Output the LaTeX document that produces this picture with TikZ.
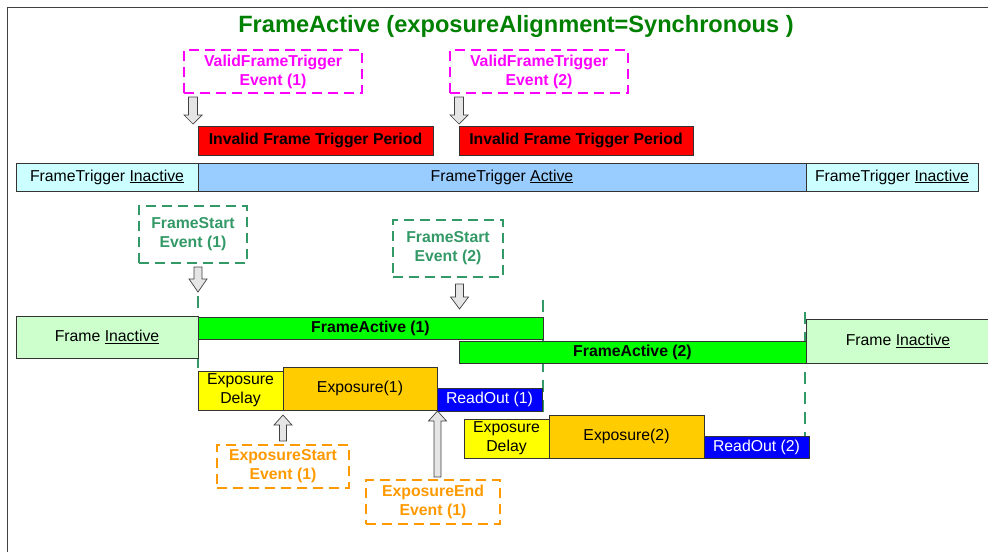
\documentclass[tikz,border=0pt]{standalone}
\usepackage{fontspec}
\setmainfont{Liberation Sans}
\definecolor{ttlgreen}{HTML}{008000}
\definecolor{evgreen}{HTML}{339966}
\definecolor{evmag}{HTML}{FF00FF}
\definecolor{evorange}{HTML}{FF9900}
\definecolor{ftin}{HTML}{CCFFFF}
\definecolor{ftact}{HTML}{99CCFF}
\definecolor{frin}{HTML}{CCFFCC}
\definecolor{fract}{HTML}{00FF00}
\definecolor{expdel}{HTML}{FFFF00}
\definecolor{expo}{HTML}{FFCC00}
\definecolor{rdout}{HTML}{0000FF}
\definecolor{invred}{HTML}{FF0000}
\newcommand\BlkArrow[5]{%
  \draw[blkarrow] (#1-#5,#2) -- (#1+#5,#2) -- (#1+#5,#3) -- (#1+9,#3) -- (#1,#4) -- (#1-9,#3) -- (#1-#5,#3) -- cycle;}
\begin{document}
\begin{tikzpicture}[x=1pt,y=-1pt,
  txt/.style={font=\fontsize{15.8}{19}\selectfont},
  boldtxt/.style={font=\bfseries\fontsize{15.8}{19}\selectfont},
  bar/.style={draw=black!80,line width=0.8pt,inner sep=0pt,txt},
  evbox/.style={line width=2pt,dash pattern=on 10pt off 6pt,inner sep=0pt,align=center,font=\bfseries\fontsize{15.8}{19}\selectfont},
  vdash/.style={draw=evgreen,line width=1.6pt,dash pattern=on 12pt off 8pt},
  blkarrow/.style={draw=black!75,fill=black!10,line width=0.7pt,line join=miter}]
\useasboundingbox (0,0) rectangle (988,552);
% outer frame (only top and left visible)
\draw[black!75,line width=1pt] (7,552) -- (7,7) -- (990,7);
% title
\node[font=\bfseries\fontsize{23.6}{28}\selectfont,text=ttlgreen] (title) at (516,26.5) {FrameActive (exposureAlignment=Synchronous )};
% valid frame trigger events
\node[evbox,draw=evmag,text=evmag,minimum width=178pt,minimum height=43pt] (vft1) at (273,71.5) {ValidFrameTrigger\\Event (1)};
\node[evbox,draw=evmag,text=evmag,minimum width=178pt,minimum height=43pt] (vft2) at (539,71.5) {ValidFrameTrigger\\Event (2)};
\BlkArrow{193}{97}{115}{124}{4.5}
\BlkArrow{459}{97}{115}{124}{4.5}
% invalid periods
\node[bar,fill=invred,boldtxt,minimum width=235pt,minimum height=29pt] (inv1) at (315.5,140.5) {Invalid Frame Trigger Period};
\node[bar,fill=invred,boldtxt,minimum width=234pt,minimum height=29pt] (inv2) at (576,140.5) {Invalid Frame Trigger Period};
% frame trigger row
\node[bar,fill=ftin,minimum width=182pt,minimum height=28pt] (fti1) at (107,177) {FrameTrigger \underline{Inactive}};
\node[bar,fill=ftact,minimum width=608pt,minimum height=28pt] (fta) at (502,177) {FrameTrigger \underline{Active}};
\node[bar,fill=ftin,minimum width=172pt,minimum height=28pt] (fti2) at (892,177) {FrameTrigger \underline{Inactive}};
% frame start events
\node[evbox,draw=evgreen,text=evgreen,minimum width=108pt,minimum height=57pt] (fs1) at (193,234.5) {FrameStart\\Event (1)};
\node[evbox,draw=evgreen,text=evgreen,minimum width=110pt,minimum height=57pt] (fs2) at (448,248.5) {FrameStart\\Event (2)};
\BlkArrow{198}{267}{279}{292}{4}
\BlkArrow{459.5}{284}{297}{309}{4}
% dashed verticals
\draw[vdash] (198,296) -- (198,371);
\draw[vdash] (543,300) -- (543,412);
\draw[vdash] (805,312) -- (805,436);
% frame rows
\node[bar,fill=frin,minimum width=182pt,minimum height=42pt] (fri1) at (107,337) {Frame \underline{Inactive}};
\node[bar,fill=fract,boldtxt,minimum width=345pt,minimum height=22pt] (fa1) at (370.5,328) {FrameActive (1)};
\node[bar,fill=fract,boldtxt,minimum width=347pt,minimum height=22pt] (fa2) at (632.5,352) {FrameActive (2)};
\node[bar,fill=frin,minimum width=184pt,minimum height=44pt] (fri2) at (898,341) {Frame \underline{Inactive}};
% exposure 1
\node[bar,fill=expdel,align=center,minimum width=85pt,minimum height=39pt] (ed1) at (240.5,390.5) {Exposure\\Delay};
\node[bar,fill=expo,minimum width=154pt,minimum height=43pt] (ex1) at (360,388.5) {Exposure(1)};
\node[bar,fill=rdout,text=white,minimum width=105pt,minimum height=23pt] (ro1) at (489.5,399.5) {ReadOut (1)};
% exposure 2
\node[bar,fill=expdel,align=center,minimum width=85pt,minimum height=39pt] (ed2) at (506.5,438.5) {Exposure\\Delay};
\node[bar,fill=expo,minimum width=155pt,minimum height=43pt] (ex2) at (626.5,436.5) {Exposure(2)};
\node[bar,fill=rdout,text=white,minimum width=105pt,minimum height=22pt] (ro2) at (756.5,447) {ReadOut (2)};
% exposure events
\BlkArrow{283}{441}{425}{415}{3.5}
\BlkArrow{437.5}{477}{421}{411}{3.5}
\node[evbox,draw=evorange,text=evorange,minimum width=132pt,minimum height=43pt] (es1) at (283,466.5) {ExposureStart\\Event (1)};
\node[evbox,draw=evorange,text=evorange,minimum width=134pt,minimum height=44pt] (ee1) at (433,501.5) {ExposureEnd\\Event (1)};
\end{tikzpicture}
\end{document}
